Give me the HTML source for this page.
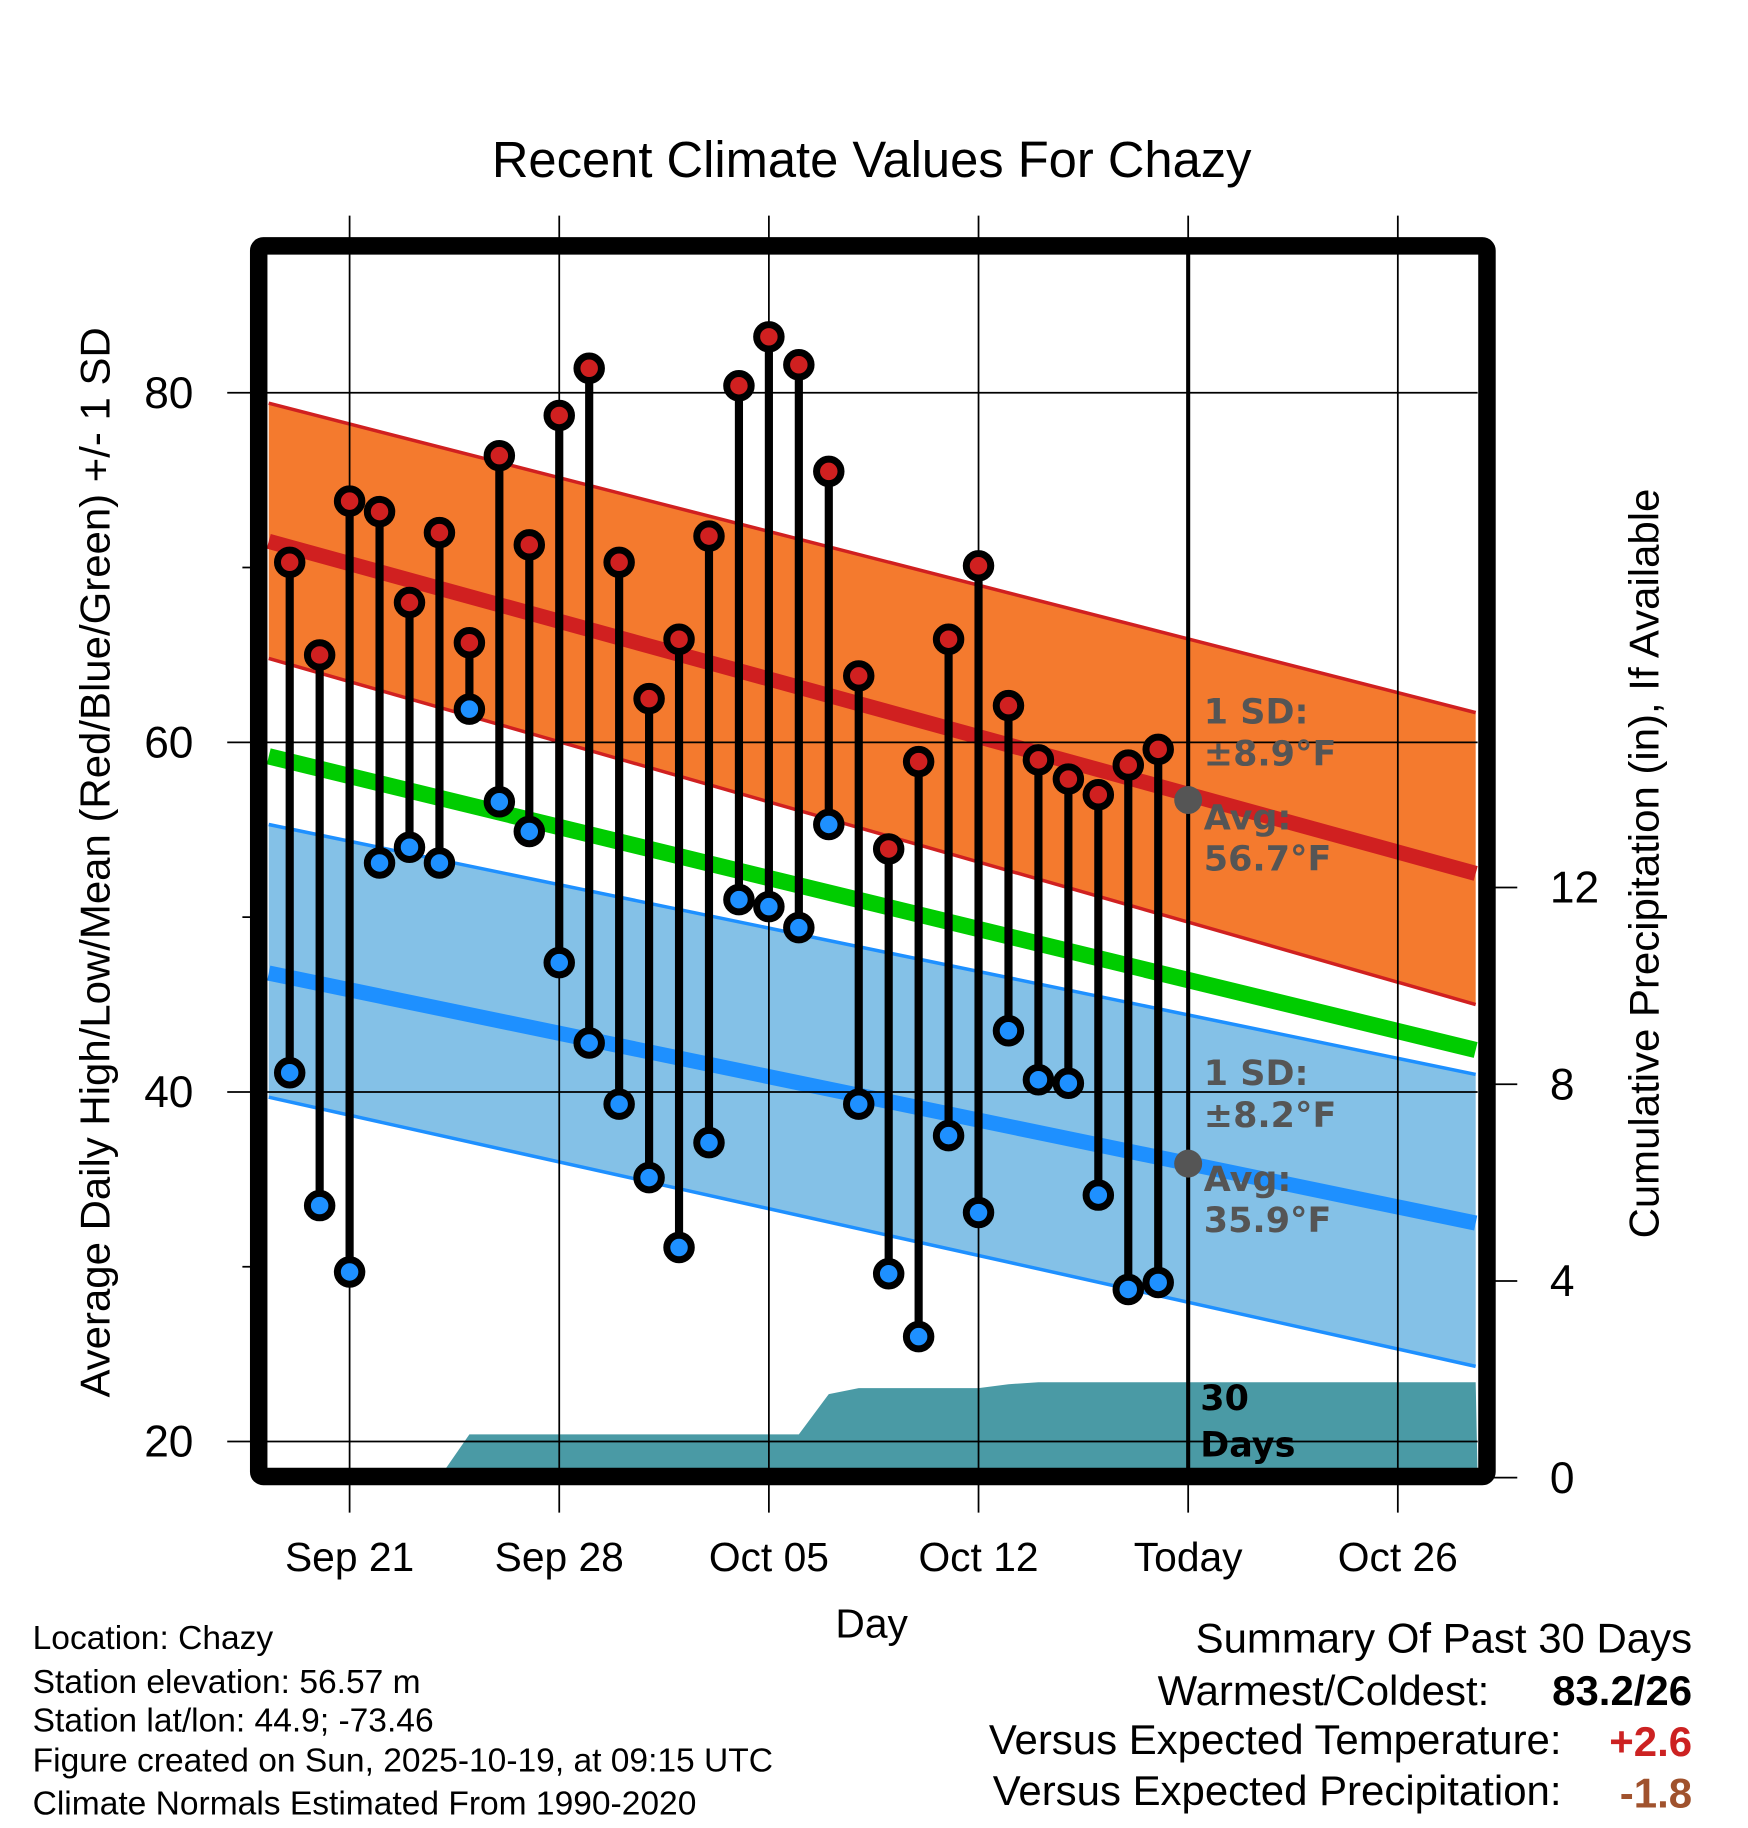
<!DOCTYPE html>
<html><head><meta charset="utf-8"><style>
html,body{margin:0;padding:0;background:#fff}
svg{display:block}
text{font-family:"Liberation Sans",Arial,sans-serif}
.ann{font-family:"DejaVu Sans","Liberation Sans",sans-serif;font-weight:bold;fill:#555;font-size:30px}
</style></head><body>
<svg id="chart" width="1748" height="1828" viewBox="0 0 1500 1568.6" xmlns="http://www.w3.org/2000/svg">
<text x="748" y="152" font-size="43.5" text-anchor="middle">Recent Climate Values For Chazy</text>
<g id="plot"></g>
<text transform="translate(94,740) rotate(-90)" font-size="36" text-anchor="middle">Average Daily High/Low/Mean (Red/Blue/Green) +/- 1 SD</text>
<text transform="translate(1423,741) rotate(-90)" font-size="36" text-anchor="middle">Cumulative Precipitation (in), If Available</text>
<text x="748" y="1405" font-size="35" text-anchor="middle">Day</text>
<g font-size="28.8">
<text x="28" y="1415">Location: Chazy</text>
<text x="28" y="1453">Station elevation: 56.57 m</text>
<text x="28" y="1486">Station lat/lon: 44.9; -73.46</text>
<text x="28" y="1520">Figure created on Sun, 2025-10-19, at 09:15 UTC</text>
<text x="28" y="1557">Climate Normals Estimated From 1990-2020</text>
</g>
<g font-size="36">
<text x="1452" y="1418" text-anchor="end">Summary Of Past 30 Days</text>
<text x="1278" y="1463" text-anchor="end">Warmest/Coldest:</text>
<text x="1452" y="1463" text-anchor="end" font-weight="bold">83.2/26</text>
<text x="1340" y="1505" text-anchor="end">Versus Expected Temperature:</text>
<text x="1452" y="1507" text-anchor="end" font-weight="bold" fill="#cc2222">+2.6</text>
<text x="1340" y="1549" text-anchor="end">Versus Expected Precipitation:</text>
<text x="1452" y="1551" text-anchor="end" font-weight="bold" fill="#a0522d">-1.8</text>
</g>
</svg>
<script>
// day offsets relative to Sep 21
const days = [-2,-1,0,1,2,3,4,5,6,7,8,9,10,11,12,13,14,15,16,17,18,19,20,21,22,23,24,25,26,27];
const highs = [70.3,65,73.8,73.2,68,72,65.7,76.4,71.3,78.7,81.4,70.3,62.5,65.9,71.8,80.4,83.2,81.6,75.5,63.8,53.9,58.9,65.9,70.1,62.1,59,57.9,57,58.7,59.6];
const lows = [41.1,33.5,29.7,53.1,54,53.1,61.9,56.6,54.9,47.4,42.8,39.3,35.1,31.1,37.1,51,50.6,49.4,55.3,39.3,29.6,26,37.5,33.1,43.5,40.7,40.5,34.1,28.7,29.1];
const precipDays = [3,4,15,16,17,21,22,23,37.6];
const precipVals = [0,0.88,0.88,1.7,1.82,1.82,1.9,1.94,1.94];
// normals at left edge / right edge of plot
const normDays = [-2.7,37.6];
const normHigh = [71.5,52.5];
const normHighUp = [79.4,61.7];
const normHighLo = [64.8,45];
const normMean = [59.2,42.4];
const normLow = [46.8,32.5];
const normLowUp = [55.3,41];
const normLowLo = [39.7,24.3];
const xTickDays = [0,7,14,21,28,35];
const xTickLabels = ["Sep 21","Sep 28","Oct 05","Oct 12","Today","Oct 26"];
const yTicks = [20,40,60,80];
const yMinor = [30,50,70];
const y2Ticks = [0,4,8,12];

const X0=230,X1=1268,Y0=218,Y1=1260;
const xs=d=>300+d*25.7;
const ys=v=>337+(80-v)*15;
const yp=p=>1268-p*42.2;
const NS="http://www.w3.org/2000/svg";
const g=document.getElementById('plot');
function mk(tag,attrs,parent){const e=document.createElementNS(NS,tag);for(const k in attrs)e.setAttribute(k,attrs[k]);(parent||g).appendChild(e);return e;}

function band(up,lo,fill,name){
  const p=`M${xs(normDays[0])},${ys(up[0])} L${xs(normDays[1])},${ys(up[1])} L${xs(normDays[1])},${ys(lo[1])} L${xs(normDays[0])},${ys(lo[0])}Z`;
  const e=mk('path',{d:p,fill:fill});
  
  
}
function line(vals,color,w,name){
  const e=mk('line',{x1:xs(normDays[0]),y1:ys(vals[0]),x2:xs(normDays[1]),y2:ys(vals[1]),stroke:color,'stroke-width':w});
  
  
}
band(normHighUp,normHighLo,'#f47a2e','high-sd-band');
line(normHighUp,'#d02020',3,'high-sd-upper');
line(normHighLo,'#d02020',3,'high-sd-lower');
line(normHigh,'#d02020',13,'normal-high-line');
band(normLowUp,normLowLo,'#84c1e7','low-sd-band');
line(normLowUp,'#1e90ff',3,'low-sd-upper');
line(normLowLo,'#1e90ff',3,'low-sd-lower');
line(normLow,'#1e90ff',13,'normal-low-line');
line(normMean,'#00cc00',14,'normal-mean-line');

let pd=`M${xs(precipDays[0])},${yp(0)}`;
for(let i=0;i<precipDays.length;i++) pd+=` L${Math.min(X1,xs(precipDays[i]))},${yp(precipVals[i])}`;
pd+=` L${X1},${yp(0)} Z`;
const pe=mk('path',{d:pd,fill:'#4a9aa5'});



yTicks.forEach(v=>{
  const l=mk('line',{x1:195,x2:X1,y1:ys(v),y2:ys(v),stroke:'#000','stroke-width':1.5});
  
  
  const t=mk('text',{x:166,y:ys(v)+13,'font-size':38,'text-anchor':'end'});
  t.textContent=v;
  
  
});
yMinor.forEach(v=>{
  const l=mk('line',{x1:208,x2:222,y1:ys(v),y2:ys(v),stroke:'#000','stroke-width':1.5});
  
  
});
xTickDays.forEach((d,i)=>{
  const l=mk('line',{x1:xs(d),x2:xs(d),y1:185,y2:1298,stroke:'#000','stroke-width':1.5});
  
  
  const t=mk('text',{x:xs(d),y:1348,'font-size':35,'text-anchor':'middle'});
  t.textContent=xTickLabels[i];
  
  
});
y2Ticks.forEach(p=>{
  const l=mk('line',{x1:1276,x2:1302,y1:yp(p),y2:yp(p),stroke:'#000','stroke-width':1.5});
  
  
  const t=mk('text',{x:1330,y:yp(p)+13,'font-size':38});
  t.textContent=p;
  
  
});

const tl=mk('line',{x1:xs(28),x2:xs(28),y1:Y0,y2:Y1,stroke:'#000','stroke-width':3.5});



days.forEach((d,i)=>{
  const s=mk('line',{x1:xs(d),x2:xs(d),y1:ys(highs[i]),y2:ys(lows[i]),stroke:'#000','stroke-width':7});
  
  
});
days.forEach((d,i)=>{
  const h=mk('circle',{cx:xs(d),cy:ys(highs[i]),r:10.5,fill:'#d02020',stroke:'#000','stroke-width':6});
  
  
  const l=mk('circle',{cx:xs(d),cy:ys(lows[i]),r:10.5,fill:'#1e90ff',stroke:'#000','stroke-width':6});
  
  
});

[[56.7,'today-high-avg-marker'],[35.9,'today-low-avg-marker']].forEach(a=>{
  const c=mk('circle',{cx:xs(28),cy:ys(a[0]),r:12,fill:'#555'});
  
  
});
function ann(txt,y,name){
  const t=mk('text',{x:1033,y:y,class:'ann'});
  t.textContent=txt;
  
  
}
ann('1 SD:',621,'high-sd-label');ann('±8.9°F',657,'high-sd-value');
ann('Avg:',712,'high-avg-label');ann('56.7°F',747,'high-avg-value');
ann('1 SD:',931,'low-sd-label');ann('±8.2°F',967,'low-sd-value');
ann('Avg:',1022,'low-avg-label');ann('35.9°F',1057,'low-avg-value');
const d1=mk('text',{x:1030,y:1210,class:'ann',style:'fill:#000'});
d1.textContent='30';


const d2=mk('text',{x:1030,y:1250,class:'ann',style:'fill:#000'});
d2.textContent='Days';



const fr=mk('rect',{x:222,y:211,width:1054,height:1056,fill:'none',stroke:'#000','stroke-width':15,rx:4});


</script>
</body></html>
